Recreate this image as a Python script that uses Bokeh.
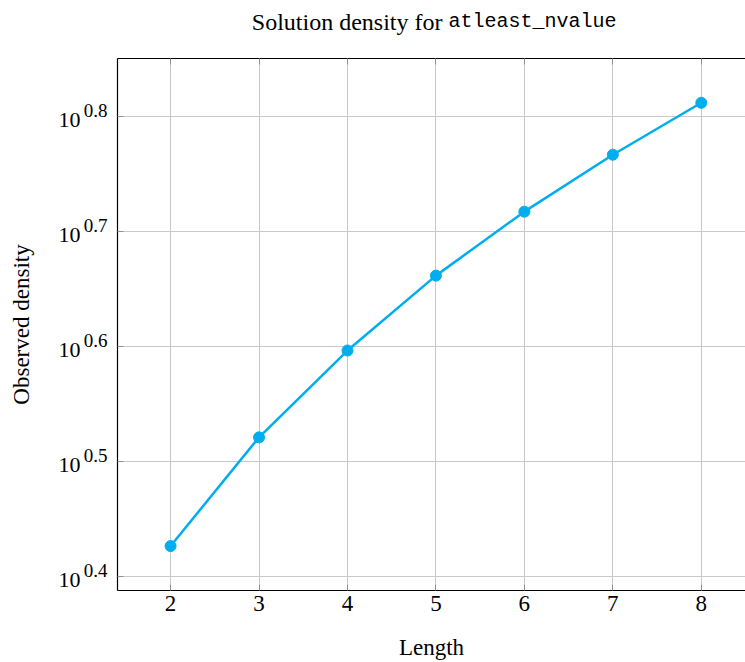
from bokeh.plotting import figure
from bokeh.models import (Range1d, LinearAxis, LogAxis, LogScale, Label,
                          FixedTicker, CustomJSTickFormatter)
from bokeh.layouts import column
from bokeh.embed import file_html
from bokeh.resources import INLINE

# Data
lengths = [2, 3, 4, 5, 6, 7, 8]
density = [2.668, 3.318, 3.949, 4.589, 5.217, 5.848, 6.490]
y_tick_exps = [0.4, 0.5, 0.6, 0.7, 0.8]
y_tick_exp_labels = ["0.4", "0.5", "0.6", "0.7", "0.8"]
y_tick_base_label = "10"
x_ticks = [2, 3, 4, 5, 6, 7, 8]
title_main = "Solution density for "
title_code = "atleast_nvalue"
x_label = "Length"
y_label = "Observed density"

SERIF = "Liberation Serif"
MONO = "Liberation Mono"
LINE_COLOR = "#00AEEF"
GRID = "#c8c8c8"
TICK = "#909090"

W = 745
LEFT = 117
TITLE_H = 44
MAIN_H = 662 - TITLE_H
LOG_LO, LOG_HI = 0.3875, 0.8508
FRAME_H = 533
PX = (LOG_HI - LOG_LO) / FRAME_H  # log units per pixel

y_ticks = [10 ** e for e in y_tick_exps]

# ---------------- title strip ----------------
t = figure(width=W, height=TITLE_H, output_backend="svg", toolbar_location=None,
           x_range=Range1d(LEFT, W), y_range=Range1d(0, TITLE_H),
           x_axis_location=None, y_axis_location=None,
           min_border_left=LEFT, min_border_right=0,
           min_border_top=0, min_border_bottom=0)
t.outline_line_color = None
t.grid.grid_line_color = None
t.add_layout(Label(x=448, y=23, text=title_main, text_font=SERIF,
                   text_font_size="24px", text_align="right",
                   text_baseline="alphabetic", text_color="black"))
t.add_layout(Label(x=448, y=23, text=title_code, text_font=MONO,
                   text_font_size="20px", text_align="left",
                   text_baseline="alphabetic", text_color="black"))

# ---------------- main plot ----------------
p = figure(width=W, height=MAIN_H, output_backend="svg", toolbar_location=None,
           y_axis_type="log", title=None,
           x_range=Range1d(1.4, 8.5),
           y_range=Range1d(10 ** LOG_LO, 10 ** LOG_HI),
           min_border_left=LEFT, min_border_right=0,
           min_border_top=14, min_border_bottom=71)
p.outline_line_color = None
p.background_fill_color = "white"
p.border_fill_color = "white"

p.extra_y_ranges = {
    "sup": Range1d(10 ** (LOG_LO - 6 * PX), 10 ** (LOG_HI - 6 * PX)),
    "ten": Range1d(10 ** (LOG_LO + 3.5 * PX), 10 ** (LOG_HI + 3.5 * PX)),
}
p.extra_y_scales = {"sup": LogScale(), "ten": LogScale()}

blank = CustomJSTickFormatter(code="return '';")

# frame axes (lines + inward ticks)
p.xaxis.ticker = FixedTicker(ticks=x_ticks)
p.yaxis.ticker = FixedTicker(ticks=y_ticks)
for ax in (p.xaxis[0], p.yaxis[0]):
    ax.axis_line_color = "black"
    ax.axis_line_width = 1.2
    ax.major_tick_in = 6
    ax.major_tick_out = 0
    ax.major_tick_line_color = TICK
    ax.minor_tick_line_color = None
p.yaxis.formatter = blank
p.yaxis.major_label_text_font_size = "0px"
p.yaxis.major_label_standoff = 0

p.xaxis.major_label_text_font = SERIF
p.xaxis.major_label_text_font_size = "23px"
p.xaxis.major_label_text_color = "black"
p.xaxis.major_label_standoff = 5
p.xaxis.axis_label = x_label
p.xaxis.axis_label_text_font = SERIF
p.xaxis.axis_label_text_font_size = "23px"
p.xaxis.axis_label_text_font_style = "normal"
p.xaxis.axis_label_text_color = "black"
p.xaxis.axis_label_standoff = 21

# superscript labels
sup_fmt = CustomJSTickFormatter(
    args=dict(tv=y_ticks, lbl=y_tick_exp_labels),
    code="""
    for (let i = 0; i < tv.length; i++) {
        if (Math.abs(tv[i] - tick) < 1e-6 * tv[i]) return lbl[i];
    }
    return '';
    """)
sup_axis = LogAxis(y_range_name="sup", ticker=FixedTicker(ticks=y_ticks),
                   formatter=sup_fmt, axis_line_color=None,
                   major_tick_line_color=None, minor_tick_line_color=None,
                   major_tick_in=0, major_tick_out=0, major_label_standoff=10,
                   major_label_text_font=SERIF, major_label_text_font_size="19px",
                   major_label_text_color="black")
p.add_layout(sup_axis, "left")

ten_fmt = CustomJSTickFormatter(args=dict(bs=y_tick_base_label),
                                code="return bs;")
ten_axis = LogAxis(y_range_name="ten", ticker=FixedTicker(ticks=y_ticks),
                   formatter=ten_fmt, axis_line_color=None,
                   major_tick_line_color=None, minor_tick_line_color=None,
                   major_tick_in=0, major_tick_out=0, major_label_standoff=0,
                   major_label_text_font=SERIF, major_label_text_font_size="22px",
                   major_label_text_color="black",
                   axis_label=y_label, axis_label_text_font=SERIF,
                   axis_label_text_font_size="23px",
                   axis_label_text_font_style="normal",
                   axis_label_text_color="black", axis_label_standoff=22)
p.add_layout(ten_axis, "left")

top = LinearAxis(ticker=FixedTicker(ticks=x_ticks), formatter=blank,
                 axis_line_color="black", axis_line_width=1.2,
                 major_tick_in=6, major_tick_out=0, major_tick_line_color=TICK,
                 minor_tick_line_color=None, major_label_text_font_size="0px",
                 major_label_standoff=0)
p.add_layout(top, "above")

p.grid.grid_line_color = GRID
p.grid.grid_line_width = 1
p.xgrid.ticker = FixedTicker(ticks=x_ticks)
p.ygrid.ticker = FixedTicker(ticks=y_ticks)

# series
p.line(lengths, density, line_color=LINE_COLOR, line_width=2.5)
p.scatter(lengths, density, size=11, fill_color=LINE_COLOR, line_color=LINE_COLOR)

layout = column(t, p, spacing=0)
open("out.html", "w").write(file_html(layout, INLINE))
